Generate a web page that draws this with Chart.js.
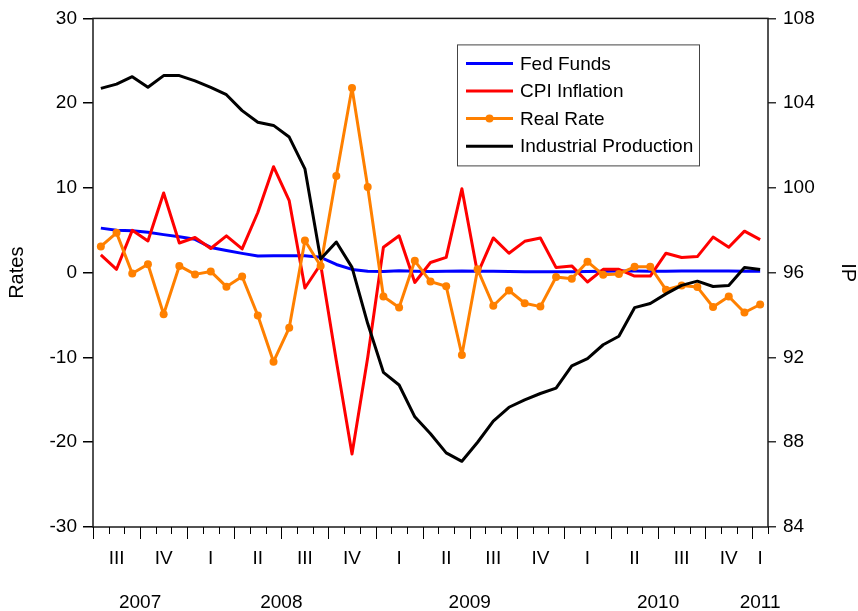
<!DOCTYPE html>
<html>
<head>
<meta charset="utf-8">
<title>Fed Funds, CPI Inflation, Real Rate and Industrial Production</title>
<script src="https://cdn.jsdelivr.net/npm/chart.js@4.4.1/dist/chart.umd.min.js"></script>
<style>
  html, body { margin: 0; padding: 0; background: #fff; }
  #wrap { width: 858px; height: 611px; }
</style>
</head>
<body>
<div id="wrap"><canvas id="rates-ip" width="858" height="611"></canvas></div>
<script>
// monthly observations, Jul 2007 - Jan 2011
var months = [
  '2007-07', '2007-08', '2007-09', '2007-10', '2007-11', '2007-12',
  '2008-01', '2008-02', '2008-03', '2008-04', '2008-05', '2008-06',
  '2008-07', '2008-08', '2008-09', '2008-10', '2008-11', '2008-12',
  '2009-01', '2009-02', '2009-03', '2009-04', '2009-05', '2009-06',
  '2009-07', '2009-08', '2009-09', '2009-10', '2009-11', '2009-12',
  '2010-01', '2010-02', '2010-03', '2010-04', '2010-05', '2010-06',
  '2010-07', '2010-08', '2010-09', '2010-10', '2010-11', '2010-12',
  '2011-01'
];

var fedFunds = [
  5.26, 5.02, 4.94, 4.76, 4.49, 4.24,
  3.94, 2.98, 2.61, 2.28, 1.98, 2.00, 2.01, 2.00, 1.81, 0.97, 0.39, 0.16,
  0.15, 0.22, 0.18, 0.15, 0.18, 0.21, 0.16, 0.16, 0.15, 0.12, 0.12, 0.12,
  0.11, 0.13, 0.16, 0.20, 0.20, 0.18, 0.18, 0.19, 0.19, 0.19, 0.19, 0.18,
  0.17
];

var cpiInflation = [
  2.1, 0.4, 5.0, 3.75, 9.4, 3.5,
  4.15, 2.86, 4.35, 2.8, 7.1, 12.5, 8.5, -1.8, 1.0, -10.4, -21.4, -10.0,
  3.0, 4.35, -1.15, 1.2, 1.8, 9.9, -0.1, 4.1, 2.3, 3.7, 4.1, 0.6,
  0.8, -1.1, 0.4, 0.4, -0.4, -0.4, 2.3, 1.8, 1.9, 4.2, 3.0, 4.9,
  3.9
];

var realRate = [
  3.1, 4.7, -0.1, 1.0, -4.9, 0.8,
  -0.2, 0.15, -1.65, -0.45, -5.05, -10.5, -6.5, 3.8, 0.8, 11.4, 21.8, 10.1,
  -2.8, -4.1, 1.4, -1.05, -1.6, -9.7, 0.4, -3.9, -2.1, -3.6, -4.0, -0.5,
  -0.7, 1.3, -0.25, -0.15, 0.7, 0.7, -2.0, -1.5, -1.7, -4.05, -2.8, -4.7,
  -3.75
];

var industrialProduction = [
  104.7, 104.9, 105.25, 104.75, 105.3, 105.3,
  105.05, 104.75, 104.4, 103.65, 103.1, 102.95, 102.4, 100.9, 96.65, 97.45, 96.25, 93.6,
  91.3, 90.7, 89.2, 88.4, 87.5, 87.1, 88.0, 89.0, 89.65, 90.0, 90.3, 90.55,
  91.6, 91.95, 92.6, 93.0, 94.35, 94.55, 95.0, 95.4, 95.6, 95.35, 95.4, 96.25,
  96.15
];

// quarter label shown under the middle month of each quarter
var quarterLabels = [
  '', 'III', '', '', 'IV', '',
  '', 'I', '', '', 'II', '', '', 'III', '', '', 'IV', '',
  '', 'I', '', '', 'II', '', '', 'III', '', '', 'IV', '',
  '', 'I', '', '', 'II', '', '', 'III', '', '', 'IV', '',
  'I'
];

var yearLabels = ['2007', '2008', '2009', '2010', '2011'];

// centre of each year's run of months, in month units
var yearCenters = yearLabels.map(function(y) {
  var first = -1, last = -1;
  months.forEach(function(m, i) {
    if (m.slice(0, 4) === y) {
      if (first < 0) first = i;
      last = i;
    }
  });
  return (first + last + 1) / 2;
});

var FONT = '"Liberation Sans", Arial, Helvetica, sans-serif';

var frameAndTicks = {
  id: 'frameAndTicks',
  afterDatasetsDraw: function(chart) {
    var ctx = chart.ctx, a = chart.chartArea, xs = chart.scales.x2;
    ctx.save();
    ctx.strokeStyle = '#1a1a1a';
    ctx.lineWidth = 1.5;
    ctx.strokeRect(a.left, a.top, a.right - a.left, a.bottom - a.top);

    ctx.lineWidth = 1;
    ctx.strokeStyle = '#000';
    for (var k = 0; k <= months.length; k++) {
      var px = Math.round(xs.getPixelForValue(k)) + 0.5;
      var major = k < months.length && (parseInt(months[k].slice(5), 10) - 1) % 3 === 0;
      ctx.beginPath();
      ctx.moveTo(px, a.bottom);
      ctx.lineTo(px, a.bottom + (major ? 12 : 7));
      ctx.stroke();
    }
    ctx.restore();
  }
};

var boxLegend = {
  id: 'boxLegend',
  afterDraw: function(chart) {
    var ctx = chart.ctx, a = chart.chartArea;
    var bx = a.left + 364, by = a.top + 26, bw = 242, bh = 121;
    ctx.save();
    ctx.fillStyle = '#fff';
    ctx.fillRect(bx, by, bw, bh);
    ctx.strokeStyle = '#444';
    ctx.lineWidth = 1;
    ctx.strokeRect(bx + 0.5, by + 0.5, bw, bh);
    ctx.font = '19px ' + FONT;
    ctx.textBaseline = 'middle';
    chart.data.datasets.forEach(function(ds, i) {
      var y = by + 19 + i * 27.6;
      ctx.strokeStyle = ds.borderColor;
      ctx.lineWidth = ds.borderWidth;
      ctx.beginPath();
      ctx.moveTo(bx + 9, y);
      ctx.lineTo(bx + 56, y);
      ctx.stroke();
      if (ds.pointRadius > 0) {
        ctx.fillStyle = ds.pointBackgroundColor;
        ctx.beginPath();
        ctx.arc(bx + 32.5, y, 4, 0, 2 * Math.PI);
        ctx.fill();
      }
      ctx.fillStyle = '#000';
      ctx.fillText(ds.label, bx + 63, y + 1);
    });
    ctx.restore();
  }
};

function lineSet(label, data, color, axis, order) {
  return {
    label: label,
    data: data,
    yAxisID: axis,
    borderColor: color,
    backgroundColor: color,
    borderWidth: 3,
    borderJoinStyle: 'round',
    pointRadius: 0,
    tension: 0,
    fill: false,
    order: order
  };
}

function printChart() {
  Chart.defaults.font.family = FONT;
  Chart.defaults.font.size = 19;
  Chart.defaults.color = '#000';

  var real = lineSet('Real Rate', realRate, '#FF8000', 'y', 2);
  real.pointRadius = 4;
  real.pointBorderWidth = 0;
  real.pointBackgroundColor = '#FF8000';

  var ctx = document.getElementById('rates-ip').getContext('2d');
  new Chart(ctx, {
    type: 'line',
    data: {
      labels: months,
      datasets: [
        lineSet('Fed Funds', fedFunds, '#0000FF', 'y', 4),
        lineSet('CPI Inflation', cpiInflation, '#FF0000', 'y', 3),
        real,
        lineSet('Industrial Production', industrialProduction, '#000000', 'y1', 1)
      ]
    },
    options: {
      responsive: false,
      animation: false,
      devicePixelRatio: 1,
      layout: { padding: { top: 17, left: 0, right: 0, bottom: 0 } },
      plugins: {
        legend: { display: false },
        tooltip: { enabled: false }
      },
      scales: {
        x: {
          type: 'category',
          position: 'bottom',
          weight: 0,
          offset: true,
          grid: { display: false, drawTicks: false },
          border: { display: false },
          ticks: {
            autoSkip: false,
            maxRotation: 0,
            minRotation: 0,
            padding: 22,
            font: { size: 19, lineHeight: 1 },
            callback: function(v, i) { return quarterLabels[i]; }
          },
          afterFit: function(s) { s.height = 45; }
        },
        x2: {
          type: 'linear',
          position: 'bottom',
          weight: 1,
          min: 0,
          max: months.length,
          grid: { display: false, drawTicks: false },
          border: { display: false },
          afterBuildTicks: function(s) {
            s.ticks = yearCenters.map(function(v) { return { value: v }; });
          },
          ticks: {
            autoSkip: false,
            maxRotation: 0,
            minRotation: 0,
            padding: 21,
            font: { size: 19, lineHeight: 1 },
            callback: function(v, i) { return yearLabels[i]; }
          },
          afterFit: function(s) { s.height = 39; }
        },
        y: {
          position: 'left',
          min: -30,
          max: 30,
          grid: { drawOnChartArea: false, drawTicks: true, tickLength: 10, color: '#000', lineWidth: 1.5 },
          border: { display: false },
          ticks: { stepSize: 10, padding: 6, font: { size: 19 } },
          title: { display: true, text: 'Rates', font: { size: 20, lineHeight: 1 }, padding: { top: 7, bottom: 0 } },
          afterFit: function(s) { s.width = 93; }
        },
        y1: {
          position: 'right',
          min: 84,
          max: 108,
          grid: { drawOnChartArea: false, drawTicks: true, tickLength: 8, color: '#333', lineWidth: 1.5 },
          border: { display: false },
          ticks: { stepSize: 4, padding: 7, font: { size: 19 } },
          title: { display: true, text: 'IP', font: { size: 20, lineHeight: 1 }, padding: { top: 0, bottom: 0 } },
          afterFit: function(s) { s.width = 90; }
        }
      }
    },
    plugins: [frameAndTicks, boxLegend]
  });
}

printChart();
</script>
</body>
</html>
